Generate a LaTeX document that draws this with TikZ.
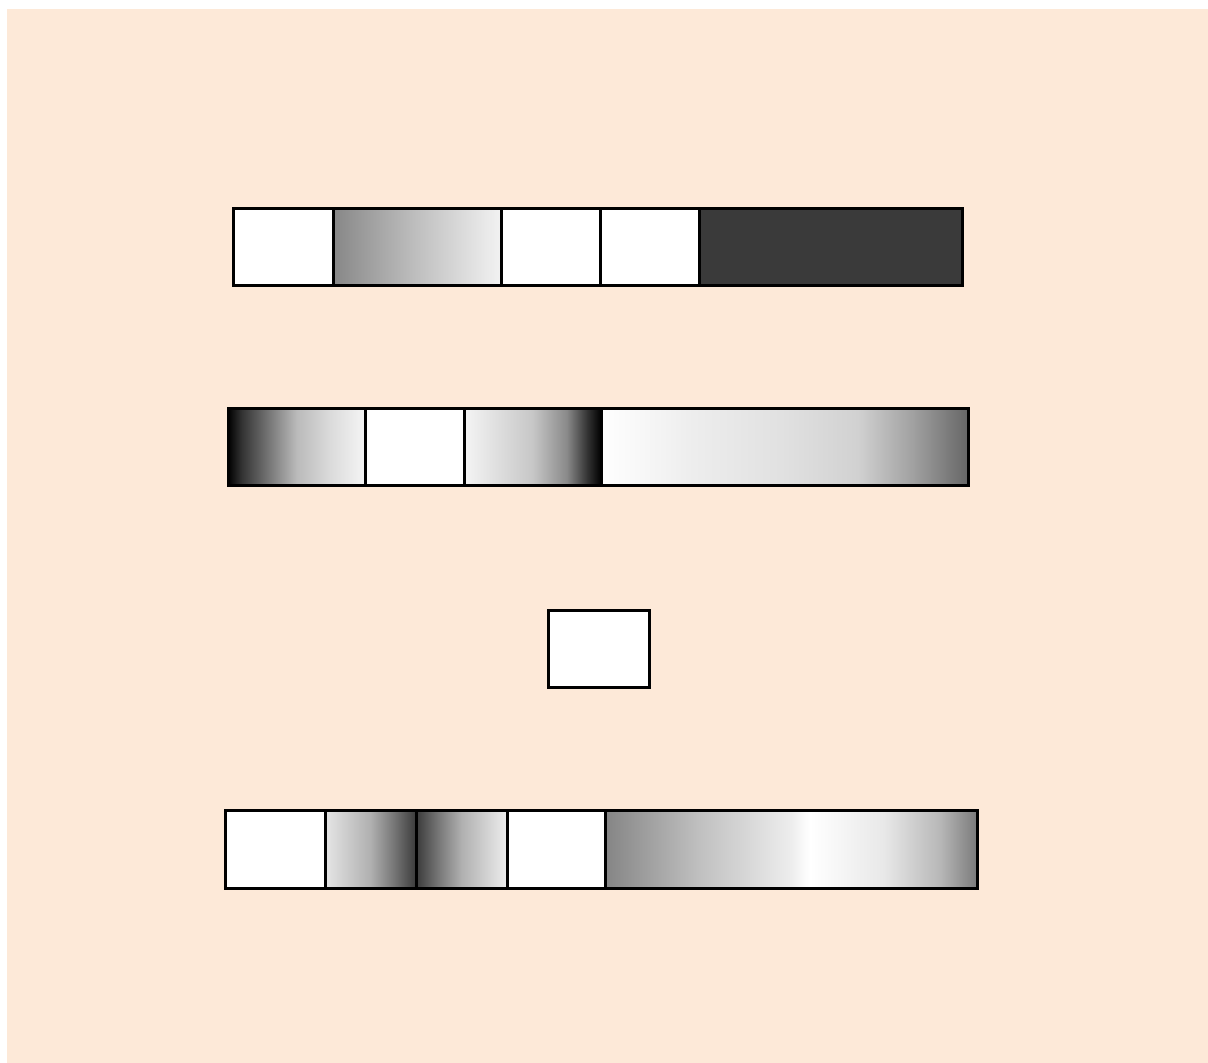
\documentclass[tikz,border=0pt]{standalone}
\usepackage{tikz}
\definecolor{peach}{RGB}{253,233,216}
\definecolor{darkfill}{RGB}{58,58,58}
\pgfdeclarehorizontalshading{shOneB}{100bp}{color(0bp)=(black!47); color(25bp)=(black!47); color(50bp)=(black!25); color(75bp)=(black!5); color(100bp)=(black!5)}
\pgfdeclarehorizontalshading{shTwoA}{100bp}{color(0bp)=(black); color(25bp)=(black); color(30bp)=(black!80); color(37.5bp)=(black!60); color(50bp)=(black!27); color(62.5bp)=(black!14); color(75bp)=(black!4); color(100bp)=(black!4)}
\pgfdeclarehorizontalshading{shTwoC}{100bp}{color(0bp)=(black!4); color(25bp)=(black!4); color(37.5bp)=(black!13); color(50bp)=(black!22); color(62.5bp)=(black!46); color(70bp)=(black!80); color(75bp)=(black); color(100bp)=(black)}
\pgfdeclarehorizontalshading{shTwoD}{100bp}{color(0bp)=(white); color(25bp)=(white); color(37.5bp)=(black!7); color(50bp)=(black!12); color(60bp)=(black!18); color(67.5bp)=(black!37); color(75bp)=(black!60); color(100bp)=(black!60)}
\pgfdeclarehorizontalshading{shFourB}{100bp}{color(0bp)=(black!10); color(25bp)=(black!10); color(50bp)=(black!31); color(62.5bp)=(black!53); color(75bp)=(black!77); color(100bp)=(black!77)}
\pgfdeclarehorizontalshading{shFourC}{100bp}{color(0bp)=(black!77); color(25bp)=(black!77); color(37.5bp)=(black!53); color(50bp)=(black!31); color(75bp)=(black!7); color(100bp)=(black!7)}
\pgfdeclarehorizontalshading{shFourE}{100bp}{color(0bp)=(black!48); color(25bp)=(black!48); color(37.5bp)=(black!25); color(50bp)=(black!7); color(52.5bp)=(white); color(62.5bp)=(black!9); color(70bp)=(black!28); color(75bp)=(black!52); color(100bp)=(black!52)}
\tikzset{
  cell/.style={draw=black, line width=3pt, fill=white},
  shadedcell/.style={draw=black, line width=3pt, shading=#1},
}
\begin{document}
\begin{tikzpicture}[x=1pt,y=-1pt]
\useasboundingbox (0,0) rectangle (1208,1063);
\fill[white] (0,0) rectangle (1208,1063);
\fill[peach] (7,9) rectangle (1208,1063);
% row 1
\path[cell] (233,208) rectangle (333,285);
\path[shadedcell=shOneB] (333,208) rectangle (501,285);
\path[cell] (501,208) rectangle (600,285);
\path[cell] (600,208) rectangle (699,285);
\path[cell, fill=darkfill] (699,208) rectangle (962,285);
% row 2
\path[shadedcell=shTwoA] (228,408) rectangle (365,485);
\path[cell] (365,408) rectangle (464,485);
\path[shadedcell=shTwoC] (464,408) rectangle (601,485);
\path[shadedcell=shTwoD] (601,408) rectangle (968,485);
% row 3
\path[cell] (548,610) rectangle (649,687);
% row 4
\path[cell] (225,810) rectangle (325,888);
\path[shadedcell=shFourB] (325,810) rectangle (416,888);
\path[shadedcell=shFourC] (416,810) rectangle (507,888);
\path[cell] (507,810) rectangle (605,888);
\path[shadedcell=shFourE] (605,810) rectangle (977,888);
\end{tikzpicture}
\end{document}
